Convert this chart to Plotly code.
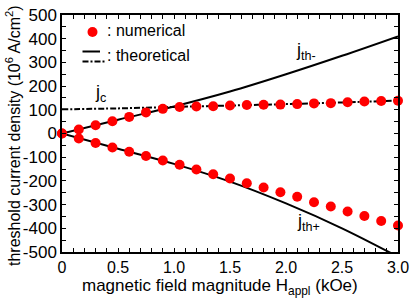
import plotly.graph_objects as go

# numerical data
H_num = [0.0, 0.15, 0.3, 0.45, 0.6, 0.75, 0.9, 1.05, 1.2, 1.35, 1.5, 1.65, 1.8,
         1.95, 2.1, 2.25, 2.4, 2.55, 2.7, 2.85, 3.0]
j_num_upper = [0, 17, 35, 52, 70, 89, 104, 112, 114, 115, 118, 120, 121,
               122, 124, 127, 128, 132, 135, 137, 138]
j_num_lower = [0, -21, -40, -59, -77, -95, -114, -132, -152, -172, -190, -210, -228,
               -248, -267, -290, -308, -329, -348, -369, -388]

# theoretical curves
H_th = [0.0, 0.5, 1.0, 1.5, 2.0, 2.5, 3.0]
j_th_minus = [0, 58, 114, 177, 250, 328, 410]
j_th_plus = [0, -64, -128, -203, -295, -400, -520]
j_c = [102, 106, 112, 118, 124, 131, 139]

x_tickvals = [0, 0.5, 1.0, 1.5, 2.0, 2.5, 3.0]
x_ticktext = ["0", "0.5", "1.0", "1.5", "2.0", "2.5", "3.0"]
y_tickvals = [-500, -400, -300, -200, -100, 0, 100, 200, 300, 400, 500]
y_ticktext = ["-500", "-400", "-300", "-200", "-100", "0", "100", "200", "300", "400", "500"]

FONT = "Liberation Sans, Arial, sans-serif"
DASHDOT = "6px,2px,2px,2px"

fig = go.Figure()
fig.add_trace(go.Scatter(x=H_th, y=j_c, mode="lines", line_shape="spline",
                         line=dict(color="black", width=2, dash=DASHDOT)))
fig.add_trace(go.Scatter(x=H_th, y=j_th_minus, mode="lines", line_shape="spline",
                         line=dict(color="black", width=2)))
fig.add_trace(go.Scatter(x=H_th, y=j_th_plus, mode="lines", line_shape="spline",
                         line=dict(color="black", width=2)))
fig.add_trace(go.Scatter(x=H_num, y=j_num_upper, mode="markers", cliponaxis=False,
                         marker=dict(color="#ff0000", size=10)))
fig.add_trace(go.Scatter(x=H_num, y=j_num_lower, mode="markers", cliponaxis=False,
                         marker=dict(color="#ff0000", size=10)))

# curve labels
lab_font = dict(size=18, color="black", family=FONT)
fig.add_annotation(x=0.34, y=170, text="j<sub>c</sub>", showarrow=False, font=lab_font)
fig.add_annotation(x=2.18, y=344, text="j<sub>th-</sub>", showarrow=False, font=lab_font)
fig.add_annotation(x=2.2, y=-375, text="j<sub>th+</sub>", showarrow=False, font=lab_font)

# plot area on screen: x 62..398 px, y 15..252 px
def px(xp):
    return (xp - 62) / 336

def py(yp):
    return (252 - yp) / 237

# hand-drawn legend
fig.add_shape(type="circle", xref="paper", yref="paper", xsizemode="pixel", ysizemode="pixel",
              xanchor=px(92.5), yanchor=py(32), x0=-5, x1=5, y0=-5, y1=5,
              fillcolor="#ff0000", line=dict(width=0))
fig.add_annotation(xref="paper", yref="paper", x=px(105), y=py(31), xanchor="left", yanchor="middle",
                   text=": numerical", showarrow=False,
                   font=dict(size=16, color="black", family=FONT))
fig.add_shape(type="line", xref="paper", yref="paper", x0=px(82.5), x1=px(100),
              y0=py(51.5), y1=py(51.5), line=dict(color="black", width=2))
fig.add_shape(type="line", xref="paper", yref="paper", x0=px(82.5), x1=px(105),
              y0=py(61.5), y1=py(61.5), line=dict(color="black", width=2, dash=DASHDOT))
fig.add_annotation(xref="paper", yref="paper", x=px(105), y=py(55), xanchor="left", yanchor="middle",
                   text=": theoretical", showarrow=False,
                   font=dict(size=16, color="black", family=FONT))

# axis titles as annotations
fig.add_annotation(xref="paper", yref="paper", x=px(220), y=py(287),
                   xanchor="center", yanchor="middle",
                   text="magnetic field magnitude H<sub>appl</sub> (kOe)", showarrow=False,
                   font=dict(size=17, color="black", family=FONT))
fig.add_annotation(xref="paper", yref="paper", x=px(13), y=py(136),
                   xanchor="center", yanchor="middle",
                   text="threshold current density (10<sup>6</sup> A/cm<sup>2</sup>)",
                   showarrow=False, textangle=-90,
                   font=dict(size=16, color="black", family=FONT))

fig.update_xaxes(range=[0, 3.0], tickvals=x_tickvals, ticktext=x_ticktext, automargin=False,
                 ticks="inside", ticklen=4, tickwidth=1.2, tickcolor="black",
                 minor=dict(dtick=0.1, tick0=0, ticks="inside", ticklen=4, tickwidth=1.2, tickcolor="black"),
                 showline=True, linecolor="black", linewidth=1.5, mirror="ticks",
                 showgrid=False, zeroline=False, ticklabeloverflow="allow",
                 tickfont=dict(size=16, color="black", family=FONT))
fig.update_yaxes(range=[-500, 500], tickvals=y_tickvals, ticktext=y_ticktext, automargin=False,
                 ticks="inside", ticklen=4, tickwidth=1.2, tickcolor="black",
                 minor=dict(dtick=50, tick0=0, ticks="inside", ticklen=4, tickwidth=1.2, tickcolor="black"),
                 showline=True, linecolor="black", linewidth=1.5, mirror="ticks",
                 showgrid=False, zeroline=False, ticklabeloverflow="allow",
                 tickfont=dict(size=17, color="black", family=FONT))

fig.update_layout(width=414, height=303,
                  margin=dict(l=62, r=16, t=15, b=51, autoexpand=False),
                  showlegend=False, plot_bgcolor="white", paper_bgcolor="white",
                  font=dict(family=FONT, color="black"))

# remove the default 8px page margin so the figure fills the window exactly
fig.write_html("out.html", config={"displayModeBar": False},
               post_script="document.body.style.margin='0px';")
